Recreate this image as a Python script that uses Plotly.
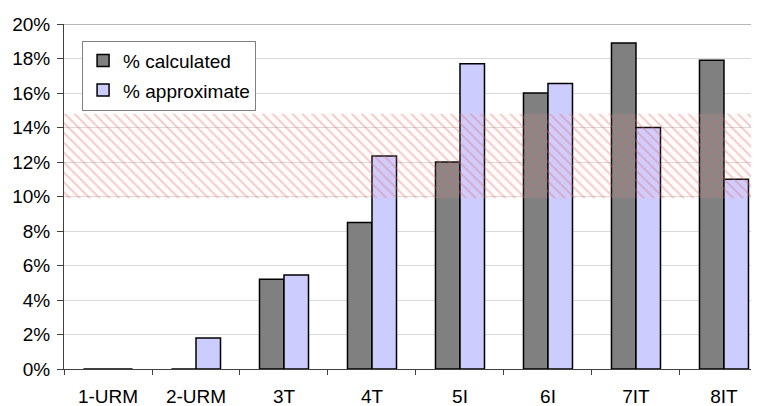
import plotly.graph_objects as go

categories = ["1-URM", "2-URM", "3T", "4T", "5I", "6I", "7IT", "8IT"]
calculated = [0, 0, 5.2, 8.5, 12.0, 16.0, 18.9, 17.9]
approximate = [0, 1.8, 5.45, 12.35, 17.7, 16.55, 14.0, 11.0]
band_low = 9.9
band_high = 14.8
y_ticks = [0, 2, 4, 6, 8, 10, 12, 14, 16, 18, 20]
y_tick_labels = [f"{v}%" for v in y_ticks]

FONT = "Liberation Sans, Arial, sans-serif"

fig = go.Figure()
fig.add_trace(go.Bar(
    x=categories, y=calculated, name="% calculated", legendgroup="a",
    marker=dict(color="#808080", line=dict(color="#000000", width=1.5)),
))
fig.add_trace(go.Bar(
    x=categories, y=approximate, name="% approximate", legendgroup="b",
    marker=dict(color="#ccccff", line=dict(color="#000000", width=1.5)),
))
# hatched band drawn above the bars
fig.add_trace(go.Bar(
    x=[0.5], y=[band_high - band_low], base=[band_low], width=[1.0],
    xaxis="x2", yaxis="y", showlegend=False, hoverinfo="skip",
    marker=dict(color="rgba(0,0,0,0)", line=dict(width=0),
                pattern=dict(shape="\\", fgcolor="rgba(235,90,90,0.7)",
                             bgcolor="rgba(255,210,210,0.08)", size=7, solidity=0.25)),
))

fig.update_layout(
    width=751, height=398,
    margin=dict(l=56, r=0, t=16, b=37, autoexpand=False),
    paper_bgcolor="white", plot_bgcolor="white",
    font=dict(family=FONT, size=19, color="#000000"),
    barmode="group", bargap=0.443, bargroupgap=0,
    showlegend=True,
    legend=dict(x=0.026, y=0.952, xanchor="left", yanchor="top",
                bgcolor="white", bordercolor="#808080", borderwidth=1,
                font=dict(family=FONT, size=19), tracegroupgap=2),
    xaxis=dict(type="category", range=[-0.5, 7.398], tickson="boundaries",
               ticks="outside", ticklen=5, tickcolor="#404040",
               showline=True, linecolor="#404040", linewidth=1,
               showgrid=False, tickfont=dict(size=19), ticklabelstandoff=10,
               automargin=False),
    xaxis2=dict(overlaying="x", range=[0, 1], visible=False),
    yaxis=dict(range=[0, 20], tickvals=y_ticks, ticktext=y_tick_labels,
               ticks="outside", ticklen=6, tickcolor="#404040",
               showline=True, linecolor="#404040", linewidth=1,
               showgrid=True, gridcolor="#d9d9d9", gridwidth=1,
               zeroline=False, tickfont=dict(size=19), ticklabelstandoff=3,
               automargin=False),
    shapes=[dict(type="line", xref="paper", yref="y", x0=0, x1=1, y0=20, y1=20,
                 line=dict(color="#a0a0a0", width=1.5))],
)

fig.write_html("out.html")
